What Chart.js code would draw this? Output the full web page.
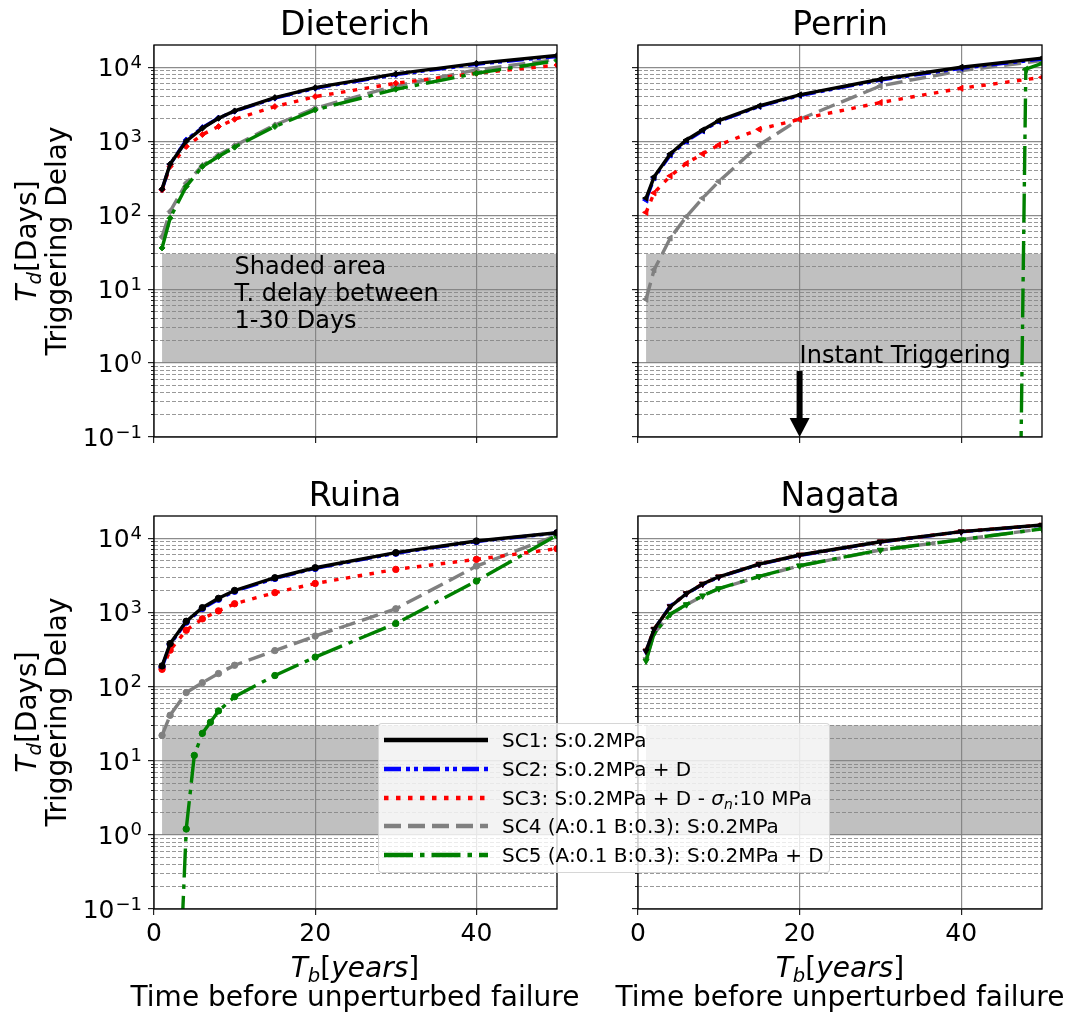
<!DOCTYPE html>
<html>
<head>
<meta charset="utf-8">
<title>Triggering delay</title>
<script src="https://cdn.jsdelivr.net/npm/chart.js@4.4.1/dist/chart.umd.min.js"></script>
<style>
  html, body { margin: 0; padding: 0; background: #fff; }
  body { position: relative; width: 1081px; height: 1018px; overflow: hidden;
         font-family: 'DejaVu Sans', sans-serif; color: #000; }
  canvas { position: absolute; }
  .title { position: absolute; width: 400px; margin-left: -200px; text-align: center;
           font-size: 33px; line-height: 1; white-space: nowrap; }
  .xlab { position: absolute; width: 520px; margin-left: -260px; text-align: center;
          font-size: 28px; line-height: 1; white-space: nowrap; }
  .ylab { position: absolute; width: 400px; height: 60px; text-align: center;
          font-size: 28px; line-height: 30px; transform: rotate(-90deg); white-space: nowrap; }
  sub { font-size: 0.7em; vertical-align: -0.25em; line-height: 0; }
  #legend { position: absolute; left: 378px; top: 723px; width: 452px; height: 150px;
            box-sizing: border-box; background: rgba(255,255,255,0.8);
            border: 1px solid rgba(204,204,204,0.8); border-radius: 4px; z-index: 5; }
  #legend svg { position: absolute; left: 4px; }
  #legend span { position: absolute; left: 123px; font-size: 20px; line-height: 1; white-space: nowrap; }
</style>
</head>
<body>
<canvas id="cDiet"></canvas>
<canvas id="cPerrin"></canvas>
<canvas id="cRuina"></canvas>
<canvas id="cNagata"></canvas>

<div class="title" style="left:355px; top:7px;">Dieterich</div>
<div class="title" style="left:840px; top:7px;">Perrin</div>
<div class="title" style="left:355px; top:478px;">Ruina</div>
<div class="title" style="left:840px; top:478px;">Nagata</div>

<div class="ylab" style="left:-158px; top:211px;"><i>T</i><sub><i>d</i></sub>[Days]<br>Triggering Delay</div>
<div class="ylab" style="left:-158px; top:682px;"><i>T</i><sub><i>d</i></sub>[Days]<br>Triggering Delay</div>

<div class="xlab" style="left:355px; top:954px;"><i>T</i><sub><i>b</i></sub>[<i>years</i>]</div>
<div class="xlab" style="left:355px; top:983px;">Time before unperturbed failure</div>
<div class="xlab" style="left:840px; top:954px;"><i>T</i><sub><i>b</i></sub>[<i>years</i>]</div>
<div class="xlab" style="left:840px; top:983px;">Time before unperturbed failure</div>

<div id="legend"></div>

<script>
// --- DONNÉES ---
const tbYears = [1, 2, 4, 6, 8, 10, 15, 20, 30, 40, 50];
const xTicks = [0, 20, 40];
const yDecades = [0.1, 1, 10, 100, 1000, 10000];

const dieterichSC1 = [225, 490, 1000, 1500, 2040, 2570, 3890, 5300, 8130, 11300, 14400];
const dieterichSC2 = [220, 485, 1040, 1530, 2060, 2540, 3820, 5200, 7950, 11000, 14000];
const dieterichSC3 = [220, 455, 850, 1230, 1580, 1980, 2940, 4010, 6080, 8300, 10700];
const dieterichSC4 = [51, 112, 270, 470, 650, 870, 1660, 2800, 5600, 9200, 12800];
const dieterichSC5 = [36, 91, 244, 455, 620, 830, 1580, 2650, 5040, 8300, 12300];

const perrinSC1 = [170, 330, 675, 1040, 1420, 1900, 3000, 4230, 6880, 10000, 13300];
const perrinSC2 = [160, 320, 650, 1000, 1380, 1850, 2950, 4150, 6700, 9700, 12900];
const perrinSC3 = [109, 200, 340, 500, 675, 890, 1450, 1980, 3330, 5200, 7300];
const perrinSC4 = [7.3, 18.3, 49, 96, 170, 285, 890, 1980, 5600, 9000, 12300];
const perrinSC5Years = [47, 48, 50];
const perrinSC5 = [0.00003, 9400, 11300];

const ruinaSC1 = [190, 380, 760, 1160, 1550, 1980, 2940, 4010, 6400, 9200, 11900];
const ruinaSC2 = [182, 370, 740, 1130, 1510, 1930, 2880, 3930, 6300, 9050, 11800];
const ruinaSC3 = [171, 310, 575, 820, 1050, 1310, 1850, 2460, 3810, 5200, 7250];
const ruinaSC4 = [22, 41, 83, 113, 150, 194, 306, 480, 1120, 4220, 11000];
const ruinaSC5Years = [3, 4, 5, 6, 7, 8, 10, 15, 20, 30, 40, 50];
const ruinaSC5 = [0.0032, 1.2, 11.8, 23.4, 33, 47, 73, 141, 250, 710, 2650, 11000];

const nagataSC1 = [303, 596, 1200, 1800, 2420, 3030, 4500, 5960, 9000, 12300, 15100];
const nagataSC2 = [295, 590, 1220, 1790, 2390, 2990, 4440, 5890, 8900, 12200, 15000];
const nagataSC3 = [303, 596, 1200, 1800, 2420, 3030, 4500, 5960, 9000, 12300, 15100];
const nagataSC4 = [232, 520, 940, 1270, 1670, 2090, 3050, 4260, 6930, 9600, 13400];
const nagataSC5 = [222, 525, 950, 1280, 1680, 2100, 3060, 4270, 6950, 9600, 13400];

// zone grisée : délai 1-30 jours
const shadeYears = [1, 50];
const shadeDays = [1, 30];

// --- STYLES DES SCÉNARIOS ---
const scenarioLabels = [
  'SC1: S:0.2MPa',
  'SC2: S:0.2MPa + D',
  'SC3: S:0.2MPa + D - <i>σ</i><sub><i>n</i></sub>:10 MPa',
  'SC4 (A:0.1 B:0.3): S:0.2MPa',
  'SC5 (A:0.1 B:0.3): S:0.2MPa + D'
];
const scenarioColors = ['#000000', '#0000ff', '#ff0000', '#808080', '#008000'];
const scenarioDash = [[], [17, 5, 4, 4, 4, 5], [4.5, 7.5], [17, 7], [29, 7, 4.5, 7]];
const scenarioOrder = [0, 3, 2, 4, 1]; // plus petit = dessiné au-dessus

const FONT = "'DejaVu Sans'";

// --- PLUGINS ---
const shadePlugin = {
  id: 'shade',
  beforeDraw(chart) {
    const { ctx, scales: { x, y } } = chart;
    const x0 = x.getPixelForValue(shadeYears[0]), x1 = x.getPixelForValue(shadeYears[1]);
    const y0 = y.getPixelForValue(shadeDays[1]), y1 = y.getPixelForValue(shadeDays[0]);
    ctx.save();
    ctx.fillStyle = '#c0c0c0';
    ctx.fillRect(x0, y0, x1 - x0, y1 - y0);
    ctx.restore();
  }
};

const framePlugin = {
  id: 'frame',
  afterDraw(chart) {
    const { ctx, chartArea: a } = chart;
    ctx.save();
    ctx.strokeStyle = '#000';
    ctx.lineWidth = 1.3;
    ctx.strokeRect(a.left, a.top, a.right - a.left, a.bottom - a.top);
    ctx.restore();
  }
};

// étiquettes 10^k avec exposant
const decadePlugin = {
  id: 'decadeLabels',
  afterDraw(chart, args, opts) {
    if (!opts.show) return;
    const { ctx, chartArea, scales } = chart;
    const right = chartArea.left - 12;
    ctx.save();
    ctx.fillStyle = '#000';
    ctx.textAlign = 'right';
    ctx.textBaseline = 'alphabetic';
    yDecades.forEach(v => {
      const e = Math.round(Math.log10(v));
      const txt = e < 0 ? '\u2212' + (-e) : String(e);
      const py = scales.y.getPixelForValue(v);
      ctx.font = '18px ' + FONT;
      ctx.fillText(txt, right, py + 0.5);
      const w = ctx.measureText(txt).width;
      ctx.font = '25px ' + FONT;
      ctx.fillText('10', right - w - 1, py + 9);
    });
    ctx.restore();
  }
};

const notesPlugin = {
  id: 'notes',
  afterDatasetsDraw(chart, args, opts) {
    const { ctx, scales: { x, y } } = chart;
    ctx.save();
    ctx.fillStyle = '#000';
    ctx.font = '24px ' + FONT;
    ctx.textAlign = 'left';
    ctx.textBaseline = 'alphabetic';
    if (opts.shadeText) {
      const lines = ['Shaded area', 'T. delay between', '1-30 Days'];
      const px = x.getPixelForValue(10);
      const base = y.getPixelForValue(3);
      lines.forEach((t, i) => ctx.fillText(t, px, base - (lines.length - 1 - i) * 26.7));
    }
    if (opts.arrow) {
      const px = x.getPixelForValue(20);
      ctx.fillText('Instant Triggering', px, y.getPixelForValue(1));
      const top = y.getPixelForValue(0.78), tip = y.getPixelForValue(0.1);
      ctx.fillRect(px - 3, top, 6, tip - top - 18);
      ctx.beginPath();
      ctx.moveTo(px - 10, tip - 19);
      ctx.lineTo(px + 10, tip - 19);
      ctx.lineTo(px, tip);
      ctx.closePath();
      ctx.fill();
    }
    ctx.restore();
  }
};

// --- PANNEAUX ---
function seriesOf(values, years) {
  return { values, years: years || tbYears };
}

const panels = [
  { canvas: 'cDiet', box: [0, 0, 580, 480], area: [154, 45, 557, 437],
    marker: 'rectRot', rot: 0, radius: 3, showX: false, showY: true, notes: { shadeText: true },
    series: [seriesOf(dieterichSC1), seriesOf(dieterichSC2), seriesOf(dieterichSC3),
             seriesOf(dieterichSC4), seriesOf(dieterichSC5)] },
  { canvas: 'cPerrin', box: [580, 0, 501, 480], area: [638, 45, 1042, 437],
    marker: 'triangle', rot: -90, radius: 3.5, showX: false, showY: false, notes: { arrow: true },
    series: [seriesOf(perrinSC1), seriesOf(perrinSC2), seriesOf(perrinSC3),
             seriesOf(perrinSC4), seriesOf(perrinSC5, perrinSC5Years)] },
  { canvas: 'cRuina', box: [0, 480, 580, 538], area: [154, 516, 557, 909],
    marker: 'circle', rot: 0, radius: 3.2, showX: true, showY: true, notes: {},
    series: [seriesOf(ruinaSC1), seriesOf(ruinaSC2), seriesOf(ruinaSC3),
             seriesOf(ruinaSC4), seriesOf(ruinaSC5, ruinaSC5Years)] },
  { canvas: 'cNagata', box: [580, 480, 501, 538], area: [638, 516, 1042, 909],
    marker: 'triangle', rot: 180, radius: 3.5, showX: true, showY: false, notes: {},
    series: [seriesOf(nagataSC1), seriesOf(nagataSC2), seriesOf(nagataSC3),
             seriesOf(nagataSC4), seriesOf(nagataSC5)] }
];

// graduations mineures 2..9 x 10^k
const yMinorTicks = [];
yDecades.slice(0, -1).forEach(d => {
  for (let m = 2; m <= 9; m++) yMinorTicks.push(d * m);
});

function makeChart(p) {
  const cv = document.getElementById(p.canvas);
  const [bx, by, bw, bh] = p.box;
  const [al, at, ar, ab] = p.area;
  cv.width = bw; cv.height = bh;
  cv.style.left = bx + 'px'; cv.style.top = by + 'px';
  cv.style.width = bw + 'px'; cv.style.height = bh + 'px';

  const datasets = p.series.map((s, i) => ({
    label: scenarioLabels[i],
    data: s.years.map((x, k) => ({ x, y: s.values[k] })),
    borderColor: scenarioColors[i],
    backgroundColor: scenarioColors[i],
    borderWidth: 3.4,
    borderDash: scenarioDash[i],
    pointStyle: p.marker,
    pointRotation: p.rot,
    pointRadius: p.radius,
    pointBorderWidth: 1,
    tension: 0,
    order: scenarioOrder[i]
  }));

  return new Chart(cv, {
    type: 'line',
    data: { datasets },
    options: {
      responsive: false,
      animation: false,
      events: [],
      layout: { padding: { left: 0, top: at - by, right: bx + bw - ar, bottom: 0 } },
      scales: {
        x: {
          type: 'linear', min: 0, max: 50,
          afterBuildTicks: s => { s.ticks = xTicks.map(v => ({ value: v })); },
          afterFit: s => { s.height = by + bh - ab; },
          ticks: { display: p.showX, autoSkip: false, maxRotation: 0, padding: 4,
                   color: '#000', font: { family: 'DejaVu Sans', size: 25 } },
          grid: { color: 'rgba(128,128,128,0.9)', lineWidth: 1.2, tickLength: 6,
                  tickColor: '#222', tickWidth: 1.2 },
          border: { display: false }
        },
        y: {
          type: 'logarithmic', position: 'left', min: 0.1, max: 20000, weight: 1,
          afterBuildTicks: s => { s.ticks = yDecades.map(v => ({ value: v })); },
          afterFit: s => { s.width = al - bx; },
          ticks: { display: false },
          grid: { color: 'rgba(128,128,128,0.9)', lineWidth: 1.2, tickLength: 6,
                  tickColor: '#222', tickWidth: 1.2 },
          border: { display: false }
        },
        yMinor: {
          type: 'logarithmic', position: 'left', min: 0.1, max: 20000, weight: 0,
          afterBuildTicks: s => { s.ticks = yMinorTicks.map(v => ({ value: v })); },
          afterFit: s => { s.width = 0; },
          ticks: { display: false },
          grid: { color: 'rgba(128,128,128,0.8)', lineWidth: 1, tickLength: 3,
                  tickColor: '#222', tickWidth: 1 },
          border: { display: false, dash: [4, 2] }
        }
      },
      plugins: {
        legend: { display: false },
        tooltip: { enabled: false },
        decadeLabels: { show: p.showY },
        notes: p.notes
      }
    },
    plugins: [shadePlugin, framePlugin, decadePlugin, notesPlugin]
  });
}

panels.forEach(makeChart);

// --- LÉGENDE (commune, posée sur les deux panneaux du bas) ---
const legend = document.getElementById('legend');
scenarioLabels.forEach((lab, i) => {
  const cy = 16 + i * 28.75;
  const dash = scenarioDash[i].length ? scenarioDash[i].join(' ') : 'none';
  legend.innerHTML += `
    <svg width="106" height="10" style="top:${cy - 5}px">
      <line x1="1" y1="5" x2="105" y2="5" stroke="${scenarioColors[i]}" stroke-width="4.5"
            stroke-dasharray="${dash}"/>
    </svg>
    <span style="top:${cy - 10}px">${lab}</span>`;
});
</script>
</body>
</html>
